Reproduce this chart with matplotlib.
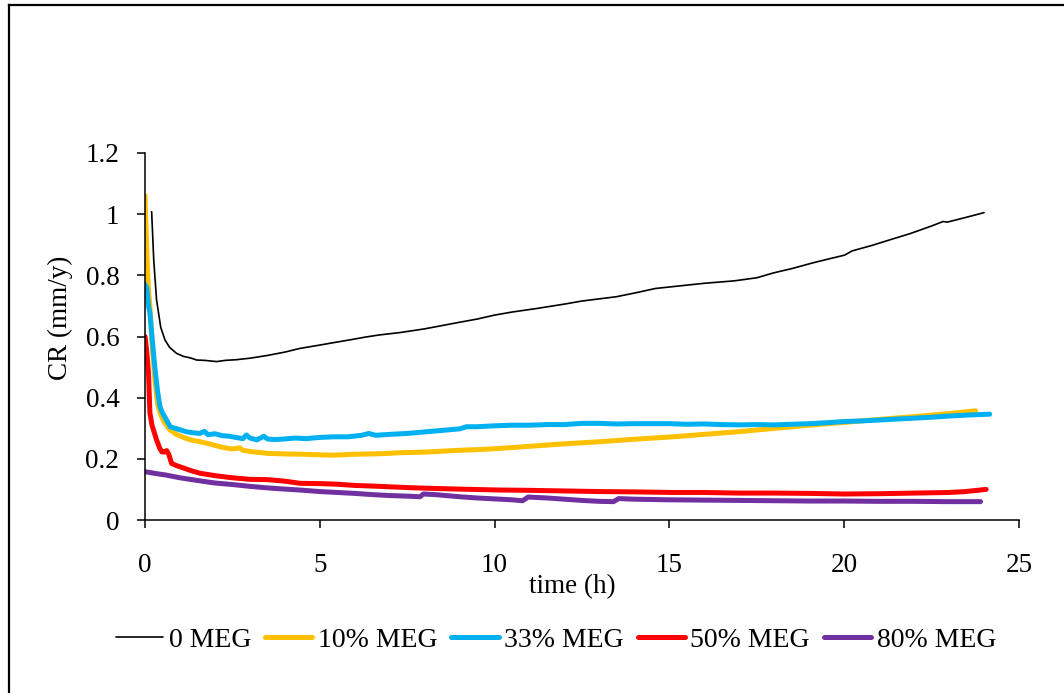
import matplotlib
matplotlib.use("Agg")
import matplotlib.pyplot as plt
from matplotlib.lines import Line2D

# Corrosion rate (mm/y) versus exposure time (h) for different MEG contents
t_0 = [0.19, 0.25, 0.33, 0.45, 0.57, 0.7, 0.9, 1.1, 1.3, 1.48, 1.7, 2.05, 2.3, 2.6, 3.0,
       3.5, 4.0, 4.43, 5.0, 5.4, 5.86, 6.3, 6.7, 7.3, 8.0, 8.97, 9.5, 10.0, 10.5, 11.23,
       12.0, 12.5, 13.48, 14.0, 14.6, 15.5, 16.0, 16.86, 17.5, 17.98, 18.5, 19.11, 19.5,
       20.01, 20.23, 20.8, 21.36, 21.9, 22.49, 22.83, 22.95, 23.5, 24.0]
cr_0 = [1.008, 0.85, 0.72, 0.63, 0.589, 0.565, 0.545, 0.535, 0.53, 0.523, 0.522, 0.518,
        0.522, 0.524, 0.529, 0.538, 0.549, 0.561, 0.572, 0.58, 0.589, 0.598, 0.605, 0.613,
        0.625, 0.646, 0.657, 0.67, 0.68, 0.692, 0.706, 0.716, 0.730, 0.742, 0.757, 0.768,
        0.774, 0.782, 0.792, 0.808, 0.822, 0.841, 0.852, 0.866, 0.880, 0.898, 0.918, 0.937,
        0.961, 0.976, 0.974, 0.99, 1.005]

t_10 = [0.0, 0.03, 0.07, 0.1, 0.14, 0.2, 0.28, 0.36, 0.43, 0.55, 0.72, 0.9, 1.1, 1.3,
        1.57, 1.8, 2.0, 2.2, 2.5, 2.7, 2.8, 3.0, 3.5, 4.0, 4.5, 5.0, 5.4, 6.0, 6.5, 7.0,
        7.3, 8.0, 8.5, 9.0, 9.5, 10.15, 11.0, 12.0, 13.0, 14.0, 15.09, 16.0, 17.0, 18.04,
        19.0, 20.0, 21.0, 22.0, 23.0, 23.76]
cr_10 = [1.06, 0.95, 0.82, 0.75, 0.70, 0.58, 0.46, 0.38, 0.35, 0.32, 0.294, 0.28, 0.27,
         0.262, 0.256, 0.25, 0.244, 0.238, 0.232, 0.236, 0.228, 0.224, 0.218, 0.216, 0.215,
         0.213, 0.212, 0.215, 0.216, 0.218, 0.22, 0.222, 0.225, 0.228, 0.23, 0.234, 0.241,
         0.249, 0.256, 0.264, 0.272, 0.28, 0.289, 0.30, 0.31, 0.319, 0.329, 0.338, 0.348,
         0.357]

t_33 = [0.0, 0.05, 0.1, 0.14, 0.2, 0.28, 0.36, 0.43, 0.5, 0.6, 0.72, 0.85, 1.0, 1.2, 1.4,
        1.57, 1.7, 1.8, 2.0, 2.2, 2.4, 2.6, 2.8, 2.9, 3.0, 3.2, 3.4, 3.5, 3.7, 4.0, 4.3,
        4.6, 5.0, 5.4, 5.8, 6.2, 6.4, 6.6, 7.0, 7.5, 8.0, 8.5, 9.0, 9.2, 9.5, 10.0, 10.5,
        11.0, 11.5, 12.0, 12.5, 13.0, 13.5, 14.0, 14.5, 15.0, 15.5, 16.0, 16.5, 17.0, 17.5,
        18.0, 18.5, 19.0, 19.5, 20.0, 20.5, 21.0, 21.5, 22.0, 22.5, 23.0, 23.5, 24.16]
cr_33 = [0.77, 0.76, 0.70, 0.677, 0.6, 0.5, 0.42, 0.37, 0.35, 0.33, 0.305, 0.30, 0.295,
         0.288, 0.285, 0.283, 0.29, 0.279, 0.282, 0.276, 0.274, 0.27, 0.266, 0.278, 0.268,
         0.262, 0.274, 0.265, 0.263, 0.265, 0.268, 0.266, 0.27, 0.272, 0.272, 0.277, 0.283,
         0.277, 0.28, 0.283, 0.288, 0.293, 0.298, 0.305, 0.305, 0.308, 0.31, 0.31, 0.312,
         0.312, 0.316, 0.316, 0.314, 0.315, 0.315, 0.315, 0.313, 0.314, 0.312, 0.311, 0.312,
         0.311, 0.313, 0.315, 0.318, 0.322, 0.324, 0.327, 0.33, 0.333, 0.336, 0.34, 0.343,
         0.346]

t_50 = [0.0, 0.05, 0.1, 0.14, 0.2, 0.33, 0.42, 0.48, 0.55, 0.62, 0.68, 0.76, 0.9, 1.1,
        1.3, 1.57, 2.0, 2.5, 3.0, 3.5, 4.0, 4.43, 5.0, 5.5, 6.0, 6.5, 7.3, 8.0, 9.0, 10.15,
        11.0, 12.0, 13.0, 14.0, 15.09, 16.0, 17.0, 18.0, 19.0, 20.0, 21.0, 22.0, 23.0,
        23.47, 23.8, 24.06]
cr_50 = [0.60, 0.55, 0.48, 0.35, 0.31, 0.262, 0.235, 0.223, 0.222, 0.227, 0.215, 0.185,
         0.178, 0.17, 0.162, 0.153, 0.145, 0.138, 0.133, 0.132, 0.127, 0.12, 0.119, 0.117,
         0.113, 0.111, 0.107, 0.104, 0.101, 0.098, 0.097, 0.095, 0.093, 0.092, 0.09, 0.09,
         0.088, 0.088, 0.087, 0.085, 0.086, 0.088, 0.09, 0.093, 0.097, 0.10]

t_80 = [0.0, 0.3, 0.6, 1.0, 1.57, 2.0, 2.5, 3.0, 3.5, 4.0, 4.43, 5.0, 5.5, 6.0, 6.5, 7.0,
        7.5, 7.87, 7.96, 8.3, 9.0, 9.5, 10.0, 10.5, 10.8, 10.96, 11.5, 12.0, 12.5, 13.0,
        13.4, 13.55, 14.0, 15.0, 16.0, 17.0, 18.0, 19.0, 20.0, 21.0, 22.0, 23.0, 23.9]
cr_80 = [0.158, 0.152, 0.147, 0.138, 0.128, 0.121, 0.116, 0.11, 0.105, 0.101, 0.098,
         0.093, 0.09, 0.087, 0.083, 0.08, 0.078, 0.076, 0.085, 0.083, 0.076, 0.072, 0.069,
         0.066, 0.063, 0.075, 0.072, 0.068, 0.064, 0.061, 0.06, 0.07, 0.068, 0.066, 0.065,
         0.064, 0.063, 0.062, 0.062, 0.061, 0.061, 0.06, 0.06]

series_labels = ["0 MEG", "10% MEG", "33% MEG", "50% MEG", "80% MEG"]
series_colors = ["#000000", "#FFC000", "#00B0F0", "#FF0000", "#7030A0"]
x_ticks = [0, 5, 10, 15, 20, 25]
y_ticks = [0, 0.2, 0.4, 0.6, 0.8, 1.0, 1.2]
y_tick_labels = ["0", "0.2", "0.4", "0.6", "0.8", "1", "1.2"]

plt.rcParams["font.family"] = ["Liberation Serif", "DejaVu Serif"]

W, H = 1064, 693
fig = plt.figure(figsize=(W / 100, H / 100), dpi=100)
ax = fig.add_axes([145 / W, 1 - 520 / H, (1019 - 145) / W, (520 - 153) / H])

data = [(t_0, cr_0), (t_10, cr_10), (t_33, cr_33), (t_50, cr_50), (t_80, cr_80)]
for i, ((tt, cc), lab, col) in enumerate(zip(data, series_labels, series_colors)):
    lw = 1.2 if i == 0 else 3.6
    ax.plot(tt, cc, color=col, lw=lw, label=lab, solid_capstyle="round",
            solid_joinstyle="round")

ax.set_xlim(0, 25)
ax.set_ylim(0, 1.2)
ax.set_xticks(x_ticks)
ax.set_yticks(y_ticks)
ax.set_yticklabels(y_tick_labels)
for s in ("top", "right"):
    ax.spines[s].set_visible(False)
for s in ("left", "bottom"):
    ax.spines[s].set_linewidth(1.1)
ax.tick_params(axis="both", direction="out", length=5.5, width=1.1, labelsize=19.5,
               colors="black")
ax.tick_params(axis="y", pad=13)
ax.tick_params(axis="x", pad=18)

ax.set_xlabel("time (h)", fontsize=19.5)
ax.xaxis.set_label_coords(0.489, -0.148)
ax.set_ylabel("CR (mm/y)", fontsize=19.5)
ax.yaxis.set_label_coords(-0.082, 0.55)

leg = fig.legend(loc="center", bbox_to_anchor=(556 / W, 1 - 640 / H), ncol=5,
                 frameon=False, fontsize=20, handlelength=1.7, handletextpad=0.2,
                 columnspacing=0.5, borderaxespad=0)

# outer frame (top and left edges)
fig.add_artist(Line2D([8.5 / W, 1.0], [1 - 5 / H, 1 - 5 / H], transform=fig.transFigure,
                      color="black", lw=1.6))
fig.add_artist(Line2D([8.5 / W, 8.5 / W], [0.0, 1 - 5 / H], transform=fig.transFigure,
                      color="black", lw=1.6))

fig.savefig("out.png", dpi=100)
